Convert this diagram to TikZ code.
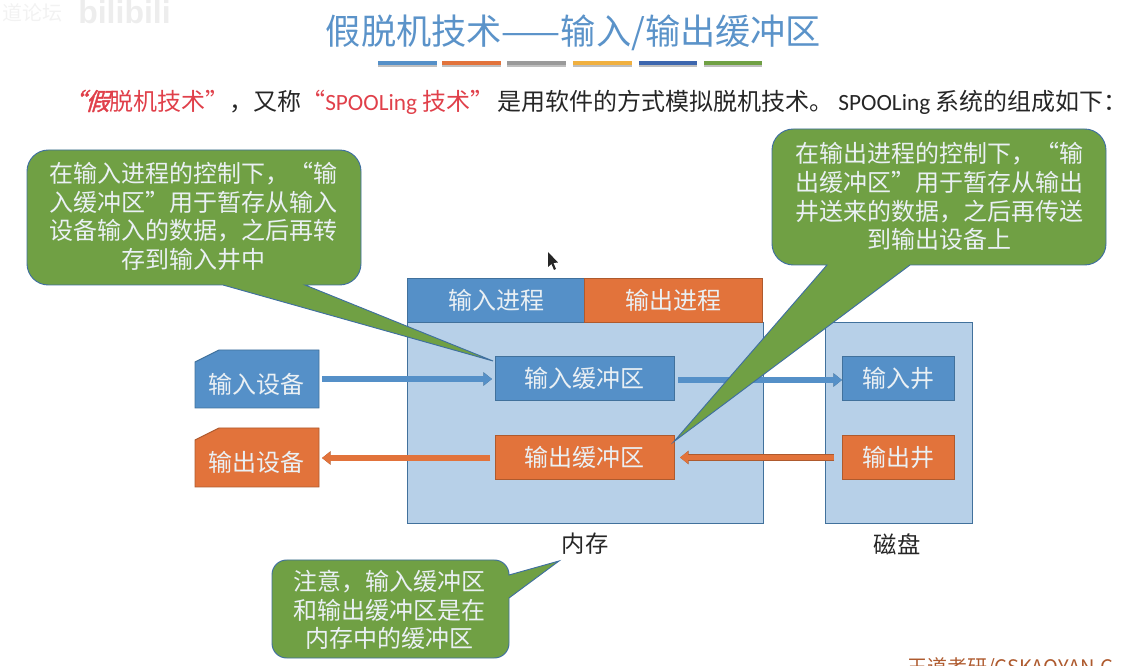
\documentclass[tikz,border=0pt]{standalone}
\usepackage{fontspec}
\setmainfont{Noto Sans CJK SC}
\newfontfamily\latinf[Scale=0.97]{Carlito}
\newfontfamily\slantf[FakeSlant=0.3,FakeBold=1.5]{Noto Sans CJK SC}
\newfontfamily\wmf{Liberation Sans}
\usetikzlibrary{arrows.meta}
\definecolor{bluefill}{HTML}{5590C8}
\definecolor{blueline}{HTML}{41719C}
\definecolor{orangefill}{HTML}{E2733B}
\definecolor{orangeline}{HTML}{AE5A2E}
\definecolor{memfill}{HTML}{B7D0E8}
\definecolor{greenfill}{HTML}{70A044}
\definecolor{greenline}{HTML}{3F6FA0}
\definecolor{titleblue}{HTML}{5B93C9}
\definecolor{redtext}{HTML}{E0404A}
\definecolor{yellowbar}{HTML}{F0B040}
\definecolor{darkbar}{HTML}{3D66AE}
\definecolor{greybar}{HTML}{9A9A9A}
\definecolor{lighttext}{HTML}{EAF0F4}
\tikzset{
 x=0.75pt,y=-0.75pt,
 box/.style={draw=blueline,line width=0.7pt,inner sep=0pt,text=lighttext,font=\fontsize{18}{20}\selectfont},
 bluebox/.style={box,fill=bluefill,minimum width=#1*0.75pt,minimum height=33pt},
 orangebox/.style={box,fill=orangefill,draw=orangeline,minimum width=#1*0.75pt,minimum height=33pt},
 devtext/.style={inner sep=0pt,text=lighttext,font=\fontsize{18}{20}\selectfont},
 region/.style={draw=blueline,line width=0.6pt,fill=memfill},
 callout/.style={draw=greenline,line width=0.7pt,fill=greenfill},
 calltext/.style={text=lighttext,align=center,font=\fontsize{18}{21.6}\selectfont,inner sep=0pt},
 blockb/.style={preaction={draw=blueline,line width=5.2pt,-{Triangle[length=6.5pt,width=10pt]}},draw=bluefill,line width=4pt,-{Triangle[length=6pt,width=8.6pt]}},
 blocko/.style={preaction={draw=orangeline,line width=5.2pt,-{Triangle[length=6.5pt,width=10pt]}},draw=orangefill,line width=4pt,-{Triangle[length=6pt,width=8.6pt]}},
 bar/.style={line width=3.4pt},
 barshadow/.style={line width=3.4pt,draw=black!25},
 lbl/.style={font=\fontsize{17.5}{20}\selectfont,text=black!85},
}
\begin{document}
\begin{tikzpicture}
\useasboundingbox (0,0) rectangle (1129,666);
% faint watermark
\node[anchor=west,inner sep=0pt,text=black!5,font=\fontsize{15}{18}\selectfont] (wm1) at (2,13) {道论坛};
\node[anchor=west,inner sep=0pt,text=black!7,font=\wmf\fontsize{24}{26}\bfseries\selectfont] (wm2) at (78,12) {bilibili};
% title
\node[text=titleblue,font=\fontsize{26.4}{30}\selectfont,inner sep=0pt] (title) at (573.5,33) {假脱机技术——输入/输出缓冲区};
\draw[barshadow] (378,65) -- (437,65) (442,65) -- (501,65) (507,65) -- (566,65) (573,65) -- (632,65) (639,65) -- (697,65) (704,65) -- (762,65);
\draw[bar,draw=bluefill] (378,63) -- (437,63);
\draw[bar,draw=orangefill] (442,63) -- (501,63);
\draw[bar,draw=greybar] (507,63) -- (566,63);
\draw[bar,draw=yellowbar] (573,63) -- (632,63);
\draw[bar,draw=darkbar] (639,63) -- (697,63);
\draw[bar,draw=greenfill] (704,63) -- (762,63);
% intro
\node[anchor=west,inner sep=0pt,font=\fontsize{18}{18}\selectfont,text=black!85] (intro) at (61,102)
 {\textcolor{redtext}{{\slantf “假}脱机技术”}，又称\textcolor{redtext}{“{\latinf SPOOLing} 技术”}\hspace{2pt}是用软件的方式模拟脱机技术。{\latinf\ SPOOLing} 系统的组成如下：};
% memory and disk
\draw[region] (407,322) rectangle (763,523);
\draw[region] (825,322) rectangle (972,523);
\node[bluebox=177] (inproc) at (496,300.5) {输入进程};
\node[orangebox=178] (outproc) at (673.5,300.5) {输出进程};
\node[bluebox=179] (inbuf) at (584.5,378.5) {输入缓冲区};
\node[orangebox=179] (outbuf) at (584.5,457.5) {输出缓冲区};
\node[bluebox=112] (inwell) at (898,378.5) {输入井};
\node[orangebox=112] (outwell) at (898,457) {输出井};
\node[lbl] (mem) at (585,544) {内存};
\node[lbl] (disk) at (897,544) {磁盘};
% devices
\draw[fill=bluefill,draw=blueline,line width=0.7pt] (195,362) -- (219,350) -- (319,350) -- (319,408) -- (195,408) -- cycle;
\node[devtext] (indev) at (256,384) {输入设备};
\draw[fill=orangefill,draw=orangeline,line width=0.7pt] (195,440) -- (219,428) -- (319,428) -- (319,487) -- (195,487) -- cycle;
\node[devtext] (outdev) at (256,462) {输出设备};
% connectors
\coordinate (a1) at (322,379); \coordinate (a2) at (492,379);
\coordinate (a3) at (490,458); \coordinate (a4) at (322,458);
\coordinate (a5) at (678,380); \coordinate (a6) at (842,380);
\coordinate (a7) at (834,457.5); \coordinate (a8) at (680,457.5);
\draw[blockb] (a1) -- (a2);
\draw[blocko] (a3) -- (a4);
\draw[blockb] (a5) -- (a6);
\draw[blocko] (a7) -- (a8);
% callouts
\draw[callout] (223,285) -- (493,361) -- (305,285)
  [rounded corners=16pt] -- (361,285) -- (361,150) -- (27,150) -- (27,285) [sharp corners] -- cycle;
\node[calltext] (c1) at (194,216.5) {在输入进程的控制下，“输\\入缓冲区”用于暂存从输入\\设备输入的数据，之后再转\\存到输入井中};
\draw[callout] (827,265) -- (674,441.5) -- (910,265)
  [rounded corners=16pt] -- (1106,265) -- (1106,129) -- (772,129) -- (772,265) [sharp corners] -- cycle;
\node[calltext] (c2) at (939,196.5) {在输出进程的控制下，“输\\出缓冲区”用于暂存从输出\\井送来的数据，之后再传送\\到输出设备上};
\draw[callout] (509,575) -- (559,561) -- (509,598)
  [rounded corners=11pt] -- (509,658) -- (272,658) -- (272,560) -- (509,560) [sharp corners] -- cycle;
\node[calltext] (c3) at (389.5,610) {注意，输入缓冲区\\和输出缓冲区是在\\内存中的缓冲区};
% mouse cursor
\fill[black!85] (548,252) -- (548,267) -- (551.5,264) -- (554,270) -- (556,269) -- (553.5,263) -- (558,262.5) -- cycle;
% footer
\node[anchor=west,inner sep=0pt,text=orangeline,font=\fontsize{15}{18}\selectfont] (foot) at (907,668) {王道考研/CSKAOYAN.C};
\end{tikzpicture}
\end{document}
